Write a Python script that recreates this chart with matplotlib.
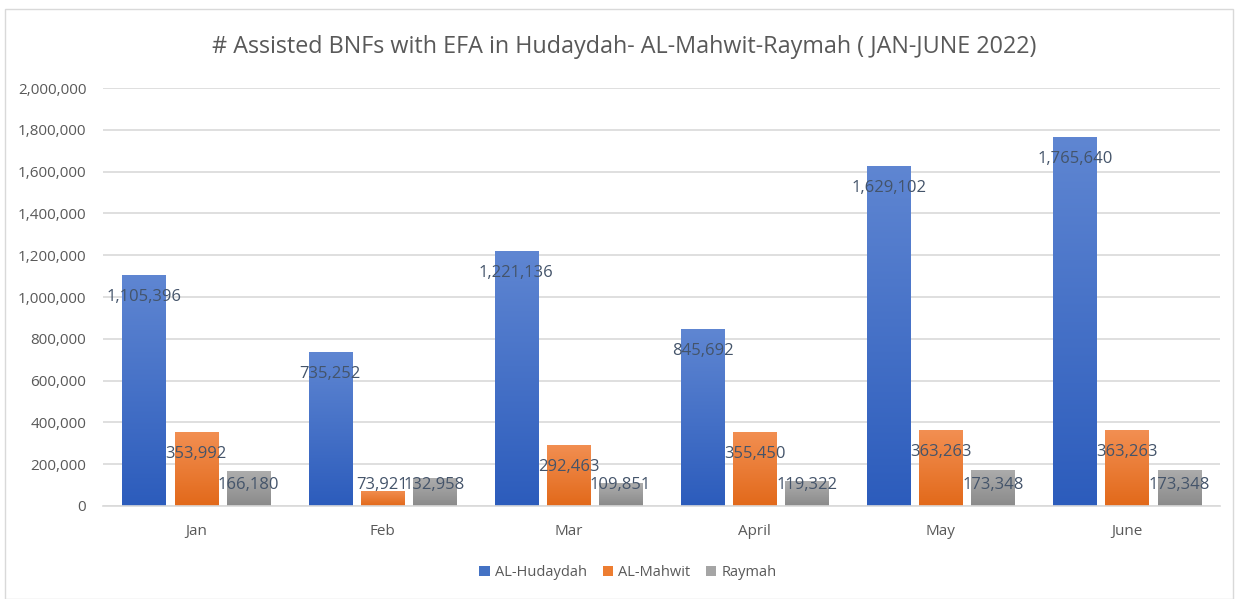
import numpy as np
import matplotlib
matplotlib.use("Agg")
from matplotlib import pyplot as plt
from matplotlib.colors import LinearSegmentedColormap
from matplotlib.patches import Rectangle

months = ["Jan", "Feb", "Mar", "April", "May", "June"]
series_names = ["AL-Hudaydah", "AL-Mahwit", "Raymah"]
hudaydah = [1105396, 735252, 1221136, 845692, 1629102, 1765640]
mahwit = [353992, 73921, 292463, 355450, 363263, 363263]
raymah = [166180, 132958, 109851, 119322, 173348, 173348]
yticks = list(range(0, 2000001, 200000))

# gradient (top, bottom) per series
grads = [("#5f86d2", "#2c5cbc"), ("#f28f52", "#e2691a"), ("#adadad", "#8a8a8a")]
solid = ["#4472c4", "#ed7d31", "#a5a5a5"]

plt.rcParams['font.family'] = ['Open Sans', 'DejaVu Sans']
txt = "#595959"

fig = plt.figure(figsize=(12.38, 5.99), dpi=100)
fig.patches.append(Rectangle((0.004, 0.0), 0.992, 0.985, transform=fig.transFigure,
                             fill=False, edgecolor="#d9d9d9", linewidth=1))
ax = fig.add_axes([0.0832, 0.1553, 0.9023, 0.6977])

x = np.arange(len(months))
pitch = 0.28
width = 0.231
data = [hudaydah, mahwit, raymah]
px = 2000000 / 418.0  # data units per pixel

for k, vals in enumerate(data):
    cmap = LinearSegmentedColormap.from_list("g%d" % k, [grads[k][1], grads[k][0]])
    grad = np.linspace(0, 1, 256).reshape(-1, 1)
    bars = ax.bar(x + (k - 1) * pitch, vals, width, color=solid[k], label=series_names[k],
                  zorder=2, edgecolor="none")
    for b, v in zip(bars, vals):
        im = ax.imshow(grad, cmap=cmap, origin="lower", aspect="auto",
                       extent=[b.get_x(), b.get_x() + width, 0, v], zorder=2.5)
        im.set_clip_path(b)
        ly = max(v - 22 * px, 21 * px)
        ax.text(b.get_x() + width / 2, ly, f"{v:,}",
                ha="center", va="center", fontsize=12, color="#44546a", zorder=4)

ax.set_xlim(-0.5, len(months) - 0.5)
ax.set_ylim(0, 2000000)
ax.set_yticks(yticks)
ax.set_yticklabels([f"{t:,}" for t in yticks])
ax.set_xticks(x)
ax.set_xticklabels(months)
ax.tick_params(axis="both", length=0, labelsize=11, colors=txt)
ax.tick_params(axis="x", pad=13)
ax.tick_params(axis="y", pad=12)
ax.grid(axis="y", color="#d9d9d9", linewidth=1.2, zorder=0)
ax.set_axisbelow(True)
for s in ["top", "right", "left"]:
    ax.spines[s].set_visible(False)
ax.spines["bottom"].set_color("#d9d9d9")
ax.spines["bottom"].set_linewidth(1.2)

fig.text(0.504, 0.922, "# Assisted BNFs with EFA in Hudaydah- AL-Mahwit-Raymah ( JAN-JUNE 2022)",
         ha="center", va="center", fontsize=16.8, color=txt)

ax.legend(loc="center", bbox_to_anchor=(0.47, -0.16), ncol=3, frameon=False,
          fontsize=10.5, labelcolor=txt, handlelength=0.7, handleheight=0.7,
          handletextpad=0.35, columnspacing=1.1)

fig.savefig("out.png", dpi=100)
